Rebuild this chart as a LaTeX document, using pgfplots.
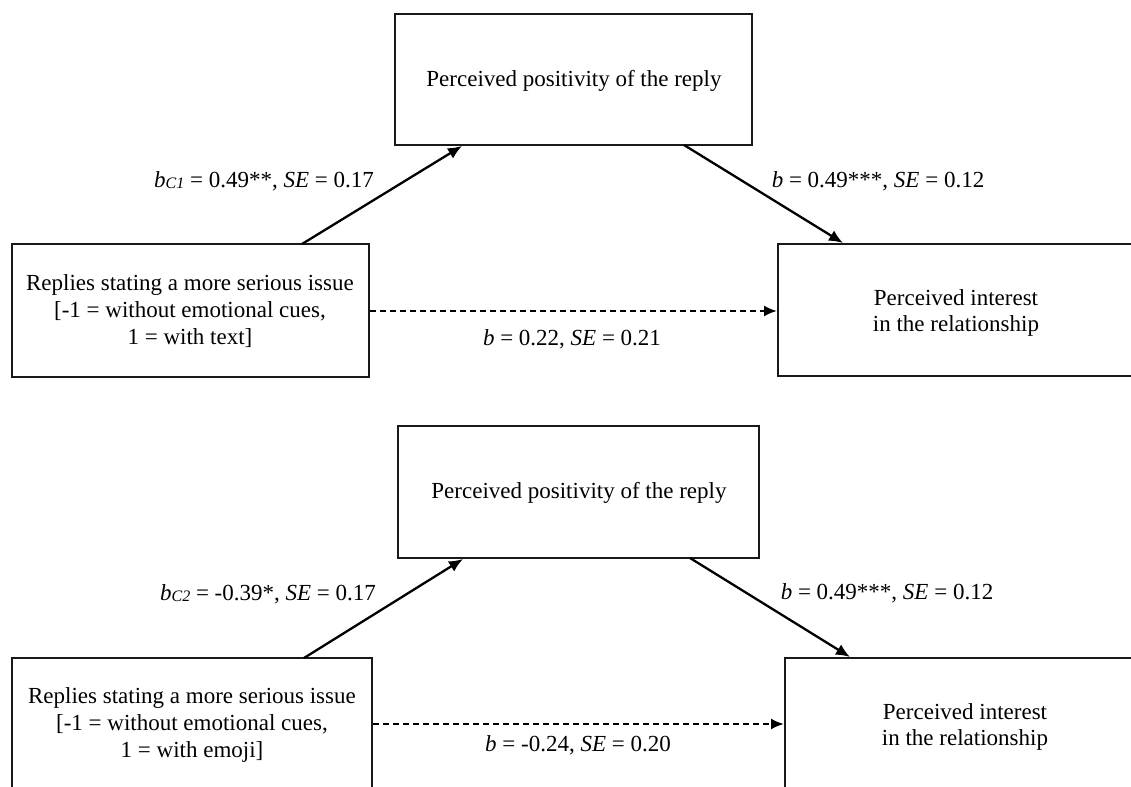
\documentclass[border=0pt]{standalone}
\usepackage{fontspec}
\setmainfont{Liberation Serif}
\usepackage{pgfplots}
\pgfplotsset{compat=1.18}
\usetikzlibrary{arrows.meta}
\newcommand{\lab}{\fontsize{11.5}{13.3}\selectfont}
\newcommand{\sub}[1]{{\itshape\fontsize{8}{8}\selectfont\raisebox{-0.6pt}{#1}}}
\begin{document}
\begin{tikzpicture}
\begin{axis}[name=ax,
  width=565.5pt, height=393.5pt, scale only axis,
  xmin=0, xmax=1131, ymin=0, ymax=787, y dir=reverse,
  hide axis, clip=false,
  box/.style={black!90, line width=0.9pt, line cap=rect, line join=miter, no markers},
  arr/.style={black, line width=1.15pt, no markers, -{Latex[length=7pt,width=6pt]}},
  darr/.style={black, line width=1.05pt, no markers, dash pattern=on 3pt off 2pt, -{Latex[length=6.5pt,width=5.5pt]}},
]
% ---------- top panel ----------
\addplot[box] coordinates {(395,14) (752,14) (752,145) (395,145) (395,14)};
\addplot[box] coordinates {(12,244) (369,244) (369,377) (12,377) (12,244)};
\addplot[box, line cap=butt] coordinates {(1131,244) (778,244) (778,376) (1131,376)};
\addplot[arr] coordinates {(302,244) (462,146)};
\addplot[arr] coordinates {(684,145) (843,243)};
\addplot[darr] coordinates {(370,311) (777,311)};
\node[font=\lab] at (axis cs:574,81) {Perceived positivity of the reply};
\node[font=\lab, align=center] at (axis cs:190,311) {Replies stating a more serious issue\\{}[-1 = without emotional cues,\\1 = with text]};
\node[font=\lab, align=center] at (axis cs:956,313) {Perceived interest\\in the relationship};
\node[font=\lab] at (axis cs:264,181) {\textit{b}\sub{C1} = 0.49**, \textit{SE} = 0.17};
\node[font=\lab] at (axis cs:878,181) {\textit{b} = 0.49***, \textit{SE} = 0.12};
\node[font=\lab] at (axis cs:572,339) {\textit{b} = 0.22, \textit{SE} = 0.21};
% ---------- bottom panel ----------
\addplot[box] coordinates {(398,426) (759,426) (759,558) (398,558) (398,426)};
\addplot[box, line cap=butt] coordinates {(12,787) (12,658) (372,658) (372,787)};
\addplot[box, line cap=butt] coordinates {(1131,658) (785,658) (785,787)};
\addplot[arr] coordinates {(304,658) (463,559)};
\addplot[arr] coordinates {(690,558) (850,657)};
\addplot[darr] coordinates {(373,724) (784,724)};
\node[font=\lab] at (axis cs:579,493) {Perceived positivity of the reply};
\node[font=\lab, align=center] at (axis cs:192,725) {Replies stating a more serious issue\\{}[-1 = without emotional cues,\\1 = with emoji]};
\node[font=\lab, align=center] at (axis cs:965,727) {Perceived interest\\in the relationship};
\node[font=\lab] at (axis cs:268,594) {\textit{b}\sub{C2} = -0.39*, \textit{SE} = 0.17};
\node[font=\lab] at (axis cs:887,593) {\textit{b} = 0.49***, \textit{SE} = 0.12};
\node[font=\lab] at (axis cs:578,745) {\textit{b} = -0.24, \textit{SE} = 0.20};
\end{axis}
\pgfresetboundingbox
\useasboundingbox (ax.south west) rectangle (ax.north east);
\end{tikzpicture}
\end{document}
